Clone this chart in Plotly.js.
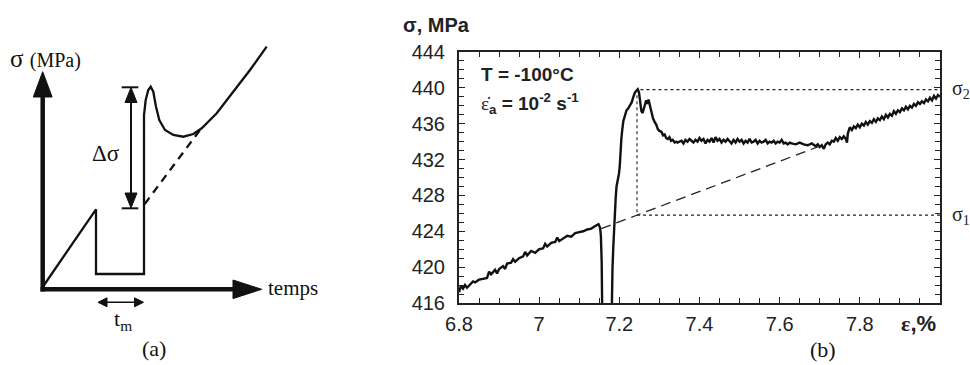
<!DOCTYPE html>
<html>
<head>
<meta charset="utf-8">
<script src="https://cdn.plot.ly/plotly-3.0.1.min.js"></script>
<style>html,body{margin:0;padding:0;background:#fff;}#chart{width:970px;height:365px;}</style>
</head>
<body>
<div id="chart"></div>
<script>
// ---------- Panel (b): measured curve, strain (%) and stress (MPa) ----------
const loadStrain = [6.800,6.805,6.810,6.815,6.820,6.830,6.835,6.840,6.850,6.860,6.870,6.875,6.880,6.890,6.895,6.900,6.910,6.915,6.920,6.930,6.935,6.940,6.950,6.960,6.965,6.970,6.980,6.990,7.000,7.010,7.015,7.020,7.030,7.040,7.045,7.050,7.060,7.070,7.080,7.090,7.100,7.110,7.120,7.130,7.140,7.148,7.152];
const loadStress = [417.2,417.9,417.6,418.0,417.7,418.1,418.4,418.3,418.6,418.7,418.8,419.5,419.2,419.7,419.3,419.8,420.1,419.8,420.4,420.5,420.9,420.6,421.0,421.2,421.7,421.3,421.8,421.6,422.0,422.1,422.6,422.3,422.7,422.8,423.3,422.9,423.2,423.5,423.4,423.8,423.9,424.0,424.2,424.3,424.6,424.8,424.4];
const unloadStrain = [7.154,7.156,7.157,7.158,7.180];
const unloadStress = [423.5,420.5,417.0,412.0,412.0];
const reloadStrain = [7.181,7.183,7.185,7.187,7.189,7.191,7.193,7.196,7.199,7.201,7.202,7.203,7.205,7.207,7.210,7.214,7.218,7.222,7.226,7.231,7.235,7.239,7.243,7.246,7.249,7.252,7.255,7.258,7.261,7.264,7.267,7.270,7.273,7.276,7.280,7.284,7.288,7.292,7.296,7.300,7.305,7.309,7.313,7.317,7.321,7.325,7.329,7.333,7.338,7.342];
const reloadStress = [417.0,420.0,422.3,424.5,426.4,427.8,429.0,429.6,430.4,431.2,432.2,433.2,434.3,435.2,436.3,436.9,437.5,437.7,438.0,438.4,439.0,439.5,439.7,439.85,439.5,438.5,437.4,437.2,437.7,438.4,438.6,438.2,438.7,438.1,437.2,436.6,436.2,435.9,435.4,435.2,435.1,434.7,434.8,434.4,434.3,434.5,434.1,434.2,433.9,434.0];
const plateauStrain = [7.345,7.355,7.360,7.365,7.370,7.375,7.380,7.385,7.390,7.395,7.400,7.405,7.410,7.415,7.420,7.425,7.430,7.435,7.440,7.445,7.450,7.455,7.460,7.465,7.470,7.475,7.480,7.485,7.490,7.495,7.500,7.505,7.510,7.515,7.520,7.525,7.530,7.535,7.540,7.545,7.550,7.555,7.560,7.565,7.570,7.575,7.580,7.585,7.590,7.595,7.600,7.605,7.610,7.615,7.620,7.625,7.630,7.640,7.650,7.660,7.670,7.680,7.690,7.695,7.700,7.705,7.710,7.715,7.720,7.725,7.730,7.735,7.740,7.745,7.750,7.755];
const plateauStress = [433.9,434.1,433.8,434.2,434.0,434.3,434.1,433.9,434.2,434.0,434.4,434.1,434.3,433.8,434.2,434.0,434.4,433.9,434.5,434.1,434.3,433.9,434.2,434.0,434.3,434.1,433.8,434.2,433.9,434.3,434.0,434.2,433.8,434.1,433.9,434.3,433.9,434.0,434.2,433.8,434.1,433.9,434.0,434.2,433.8,434.0,433.9,434.1,433.8,434.0,433.9,434.2,433.8,433.9,433.7,433.9,433.8,433.7,433.9,433.7,433.6,433.8,433.5,433.7,433.4,433.6,433.2,433.7,433.9,433.7,434.1,434.0,434.4,434.1,434.5,434.3];
const hardenStrain = [7.760,7.765,7.768,7.770,7.775,7.780,7.785,7.790,7.795,7.800,7.805,7.810,7.815,7.820,7.825,7.830,7.835,7.840,7.845,7.850,7.855,7.860,7.865,7.870,7.875,7.880,7.885,7.890,7.895,7.900,7.905,7.910,7.915,7.920,7.925,7.930,7.935,7.940,7.945,7.950,7.955,7.960,7.965,7.970,7.975,7.980,7.985,7.990,7.995,8.000];
const hardenStress = [434.6,434.3,433.9,434.9,435.6,435.3,435.7,435.5,435.9,435.6,436.0,435.8,436.2,435.9,436.3,436.1,436.5,436.2,436.6,436.4,436.8,436.5,437.0,436.7,437.1,436.9,437.4,437.1,437.5,437.3,437.7,437.5,437.9,437.6,438.0,437.8,438.2,438.0,438.4,438.2,438.5,438.3,438.7,438.5,438.9,438.6,439.1,438.8,439.2,439.0];
// extrapolated elastic line and construction lines
const extrapStrain = [7.155, 7.700];
const extrapStress = [424.3, 433.5];
const sigma1 = 425.8, sigma2 = 439.8, peakStrain = 7.244, strainEnd = 8.0;
const xTickVals = [6.8, 7.0, 7.2, 7.4, 7.6, 7.8];
const xTickText = ['6.8', '7', '7.2', '7.4', '7.6', '7.8'];
const yTickVals = [416, 420, 424, 428, 432, 436, 440, 444];

// ---------- Panel (a): schematic (drawing units = pixels) ----------
const schemCurveX = [42.7,96,96,144,144,145.7,148.3,150.7,153.3,156,159.3,165,173.3,183.3,193.3,201.7,216.7,233.3,250,266.7];
const schemCurveY = [287,209.3,274,274,115,100,90,86.7,91.7,106.7,120,130,135,136.7,134,128.3,113.3,91.7,70,46.7];
const schemDashX = [144.7, 200];
const schemDashY = [204, 130];
const vAxisX = [42.7, 42.7], vAxisY = [291.5, 95];
const hAxisX = [40.5, 235], hAxisY = [289.3, 289.3];
const vHeadX = [33.3, 52.1, 42.7, 33.3], vHeadY = [97, 97, 71.7, 97];
const hHeadX = [233, 233, 261.7, 233], hHeadY = [280, 298.6, 289.3, 280];
const capTopX = [121.7, 138.3], capTopY = [87.3, 87.3];
const capBotX = [121.7, 138.3], capBotY = [208.3, 208.3];
const dsShaftX = [131, 131], dsShaftY = [100, 196];
const dsTopHeadX = [125, 137, 131, 125], dsTopHeadY = [102.5, 102.5, 87.5, 102.5];
const dsBotHeadX = [125, 137, 131, 125], dsBotHeadY = [193, 193, 208, 193];
const tmShaftX = [104, 137], tmShaftY = [302.3, 302.3];
const tmLeftHeadX = [107, 107, 98, 107], tmLeftHeadY = [297.8, 306.8, 302.3, 297.8];
const tmRightHeadX = [134.5, 134.5, 143.5, 134.5], tmRightHeadY = [297.8, 306.8, 302.3, 297.8];

const black = '#111';
function seg(x, y, w, dash) {
  return {x: x, y: y, mode: 'lines', line: {color: black, width: w, dash: dash || 'solid'}, xaxis: 'x2', yaxis: 'y2', hoverinfo: 'skip'};
}
function tri(x, y) {
  return {x: x, y: y, mode: 'lines', fill: 'toself', fillcolor: black, line: {color: black, width: 1}, xaxis: 'x2', yaxis: 'y2', hoverinfo: 'skip'};
}
const traces = [
  {x: [].concat(loadStrain, unloadStrain, reloadStrain, plateauStrain, hardenStrain),
   y: [].concat(loadStress, unloadStress, reloadStress, plateauStress, hardenStress),
   mode: 'lines', line: {color: black, width: 2.4}, xaxis: 'x', yaxis: 'y', hoverinfo: 'skip'},
  {x: extrapStrain, y: extrapStress, mode: 'lines',
   line: {color: '#222', width: 1.3, dash: '10px,6px'}, xaxis: 'x', yaxis: 'y', hoverinfo: 'skip'},
  {x: [strainEnd, peakStrain, peakStrain, strainEnd], y: [sigma1, sigma1, sigma2, sigma2], mode: 'lines',
   line: {color: '#222', width: 1.1, dash: '3px,3px'}, xaxis: 'x', yaxis: 'y', hoverinfo: 'skip'},
  // schematic
  seg(schemCurveX, schemCurveY, 2.3),
  seg(schemDashX, schemDashY, 2.3, '8px,6px'),
  seg(vAxisX, vAxisY, 4.5),
  seg(hAxisX, hAxisY, 4.5),
  tri(vHeadX, vHeadY),
  tri(hHeadX, hHeadY),
  seg(capTopX, capTopY, 2),
  seg(capBotX, capBotY, 2),
  seg(dsShaftX, dsShaftY, 2),
  tri(dsTopHeadX, dsTopHeadY),
  tri(dsBotHeadX, dsBotHeadY),
  seg(tmShaftX, tmShaftY, 1.6),
  tri(tmLeftHeadX, tmLeftHeadY),
  tri(tmRightHeadX, tmRightHeadY)
];

const W = 970, H = 365;
const px = v => v / W, py = v => 1 - v / H;
const serif = 'Liberation Serif, Times New Roman, serif';
const sans = 'Liberation Sans, Arial, sans-serif';

const axisCommon = {
  showline: true, linewidth: 2, linecolor: '#222', mirror: 'allticks',
  ticks: 'inside', ticklen: 6, tickwidth: 1.3, tickcolor: '#222',
  showgrid: false, zeroline: false, fixedrange: true,
  tickfont: {family: sans, size: 20, color: '#222'}
};

const layout = {
  width: W, height: H, margin: {l: 0, r: 0, t: 0, b: 0},
  paper_bgcolor: '#fff', plot_bgcolor: 'rgba(0,0,0,0)', showlegend: false,
  xaxis: Object.assign({}, axisCommon, {
    domain: [px(459), px(940)], range: [6.8, 8.0], anchor: 'y',
    tickmode: 'array', tickvals: xTickVals, ticktext: xTickText, ticklabelstandoff: 2,
    minor: {tickmode: 'linear', tick0: 6.8, dtick: 0.05, ticks: 'inside', ticklen: 5, tickwidth: 1.2, tickcolor: '#222', showgrid: false}
  }),
  yaxis: Object.assign({}, axisCommon, {
    domain: [py(303), py(52)], range: [416, 444], anchor: 'x',
    tickmode: 'array', tickvals: yTickVals, ticklabelstandoff: 8,
    minor: {tickmode: 'linear', tick0: 416, dtick: 1, ticks: 'inside', ticklen: 5, tickwidth: 1.2, tickcolor: '#222', showgrid: false}
  }),
  xaxis2: {domain: [0, px(340)], range: [0, 340], anchor: 'y2', visible: false, fixedrange: true},
  yaxis2: {domain: [0, 1], range: [365, 0], anchor: 'x2', visible: false, fixedrange: true},
  annotations: [
    // panel (b) texts
    {xref: 'paper', yref: 'paper', x: px(401), y: py(25), xanchor: 'left', yanchor: 'middle', showarrow: false,
     text: '<b>σ, MPa</b>', font: {family: sans, size: 20, color: '#222'}},
    {xref: 'paper', yref: 'paper', x: px(899), y: py(323), xanchor: 'left', yanchor: 'middle', showarrow: false,
     text: '<b><span style="font-family:Liberation Serif">ε</span>,%</b>', font: {family: sans, size: 22, color: '#222'}},
    {xref: 'paper', yref: 'paper', x: px(479), y: py(75), xanchor: 'left', yanchor: 'middle', showarrow: false,
     text: '<b>T = -100°C</b>', font: {family: sans, size: 19, color: '#222'}},
    {xref: 'paper', yref: 'paper', x: px(479), y: py(103), xanchor: 'left', yanchor: 'middle', showarrow: false,
     text: '<span style="font-family:Liberation Serif;font-weight:normal">ε̇</span><sub><b>a</b></sub><b> = 10<sup>-2</sup> s<sup>-1</sup></b>', font: {family: sans, size: 19, color: '#222'}},
    {xref: 'paper', yref: 'y', x: px(950), y: sigma2, xanchor: 'left', yanchor: 'middle', showarrow: false,
     text: 'σ<sub>2</sub>', font: {family: serif, size: 20, color: '#222'}},
    {xref: 'paper', yref: 'y', x: px(950), y: sigma1, xanchor: 'left', yanchor: 'middle', showarrow: false,
     text: 'σ<sub>1</sub>', font: {family: serif, size: 20, color: '#222'}},
    {xref: 'paper', yref: 'paper', x: px(823), y: py(349), xanchor: 'center', yanchor: 'middle', showarrow: false,
     text: '(b)', font: {family: serif, size: 22, color: '#111'}},
    // panel (a) texts
    {xref: 'x2', yref: 'y2', x: 8, y: 58, xanchor: 'left', yanchor: 'middle', showarrow: false,
     text: 'σ <span style="font-size:20px">(MPa)</span>', font: {family: serif, size: 25, color: '#111'}},
    {xref: 'x2', yref: 'y2', x: 266, y: 288, xanchor: 'left', yanchor: 'middle', showarrow: false,
     text: 'temps', font: {family: serif, size: 21, color: '#111'}},
    {xref: 'x2', yref: 'y2', x: 106, y: 153, xanchor: 'center', yanchor: 'middle', showarrow: false,
     text: 'Δσ', font: {family: serif, size: 23, color: '#111'}},
    {xref: 'x2', yref: 'y2', x: 123, y: 320, xanchor: 'center', yanchor: 'middle', showarrow: false,
     text: 't<sub>m</sub>', font: {family: serif, size: 22, color: '#111'}},
    {xref: 'x2', yref: 'y2', x: 154, y: 348, xanchor: 'center', yanchor: 'middle', showarrow: false,
     text: '(a)', font: {family: serif, size: 22, color: '#111'}}
  ]
};

Plotly.newPlot('chart', traces, layout, {displayModeBar: false});
</script>
</body>
</html>
